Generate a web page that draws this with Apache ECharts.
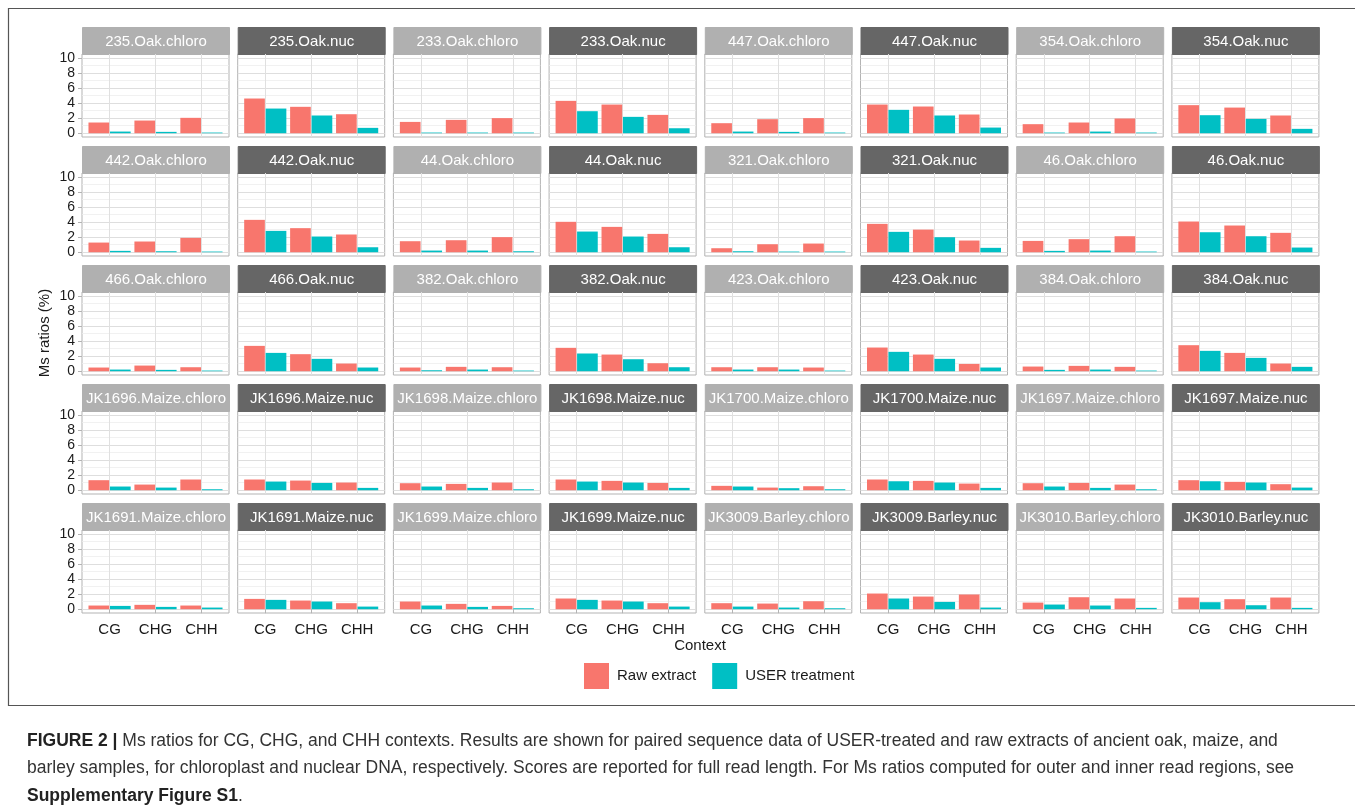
<!DOCTYPE html>
<html><head><meta charset="utf-8">
<script src="https://cdn.jsdelivr.net/npm/echarts@6/dist/echarts.min.js"></script>
<style>html,body{margin:0;padding:0;background:#fff}#c{width:1355px;height:806px}</style>
</head><body><div id="c"></div>
<script>
// ---- data ----
const contexts = ['CG', 'CHG', 'CHH'];
const yTickValues = [0, 2, 4, 6, 8, 10];
const yMinorValues = [1, 3, 5, 7, 9];
const seriesNames = ['Raw extract', 'USER treatment'];
const panelNames = [
  '235.Oak.chloro','235.Oak.nuc','233.Oak.chloro','233.Oak.nuc','447.Oak.chloro','447.Oak.nuc','354.Oak.chloro','354.Oak.nuc',
  '442.Oak.chloro','442.Oak.nuc','44.Oak.chloro','44.Oak.nuc','321.Oak.chloro','321.Oak.nuc','46.Oak.chloro','46.Oak.nuc',
  '466.Oak.chloro','466.Oak.nuc','382.Oak.chloro','382.Oak.nuc','423.Oak.chloro','423.Oak.nuc','384.Oak.chloro','384.Oak.nuc',
  'JK1696.Maize.chloro','JK1696.Maize.nuc','JK1698.Maize.chloro','JK1698.Maize.nuc','JK1700.Maize.chloro','JK1700.Maize.nuc','JK1697.Maize.chloro','JK1697.Maize.nuc',
  'JK1691.Maize.chloro','JK1691.Maize.nuc','JK1699.Maize.chloro','JK1699.Maize.nuc','JK3009.Barley.chloro','JK3009.Barley.nuc','JK3010.Barley.chloro','JK3010.Barley.nuc'
];
// Raw extract: [CG, CHG, CHH] per panel
const rawExtract = [
  [1.42,1.68,2.04],[4.60,3.50,2.52],[1.50,1.77,2.00],[4.29,3.80,2.43],[1.33,1.86,2.00],[3.80,3.54,2.48],[1.20,1.42,1.95],[3.72,3.40,2.35],
  [1.28,1.42,1.90],[4.29,3.19,2.35],[1.46,1.59,2.00],[4.03,3.36,2.43],[0.53,1.06,1.15],[3.76,3.00,1.55],[1.50,1.73,2.12],[4.07,3.54,2.57],
  [0.49,0.75,0.53],[3.36,2.26,1.02],[0.49,0.58,0.53],[3.10,2.21,1.06],[0.53,0.53,0.49],[3.14,2.21,0.97],[0.62,0.71,0.58],[3.45,2.43,1.02],
  [1.33,0.75,1.42],[1.42,1.28,1.02],[0.93,0.84,1.02],[1.42,1.24,0.97],[0.58,0.35,0.53],[1.42,1.24,0.88],[0.93,0.97,0.75],[1.33,1.11,0.80],
  [0.49,0.58,0.49],[1.37,1.15,0.80],[1.02,0.71,0.44],[1.42,1.15,0.80],[0.80,0.75,1.06],[2.08,1.68,1.95],[0.88,1.59,1.42],[1.55,1.33,1.55]
];
// USER treatment: [CG, CHG, CHH] per panel
const userTreatment = [
  [0.22,0.18,0.09],[3.27,2.35,0.71],[0.09,0.09,0.09],[2.92,2.17,0.66],[0.22,0.18,0.09],[3.10,2.35,0.75],[0.09,0.22,0.09],[2.39,1.90,0.58],
  [0.18,0.13,0.09],[2.83,2.08,0.66],[0.22,0.22,0.13],[2.74,2.08,0.66],[0.13,0.09,0.09],[2.70,1.99,0.58],[0.18,0.22,0.09],[2.65,2.12,0.62],
  [0.22,0.18,0.09],[2.43,1.64,0.49],[0.13,0.22,0.09],[2.35,1.59,0.53],[0.22,0.22,0.09],[2.57,1.64,0.49],[0.18,0.22,0.09],[2.70,1.77,0.58],
  [0.49,0.35,0.13],[1.15,0.97,0.31],[0.49,0.31,0.13],[1.15,1.02,0.31],[0.49,0.27,0.13],[1.19,1.02,0.31],[0.49,0.31,0.13],[1.19,1.02,0.35],
  [0.44,0.31,0.22],[1.24,1.02,0.35],[0.49,0.31,0.13],[1.24,1.02,0.35],[0.35,0.22,0.13],[1.42,0.97,0.22],[0.62,0.49,0.18],[0.93,0.53,0.18]
];

// ---- layout / style ----
const FONT = "'Liberation Sans', Arial, sans-serif";
const COLORS = ['#F8766D', '#00BFC4'];
const COLS = 8, ROWS = 5;
const P_LEFT = 82, P_PITCH_X = 155.7, P_W = 147;
const STRIP_TOP = 27, STRIP_H = 27, P_H = 83, P_PITCH_Y = 119;

const grids = [], xAxes = [], yAxes = [], series = [], graphics = [];

panelNames.forEach((name, i) => {
  const r = Math.floor(i / COLS), c = i % COLS;
  const left = P_LEFT + c * P_PITCH_X;
  const stripTop = STRIP_TOP + r * P_PITCH_Y;
  const top = stripTop + STRIP_H;
  const isBottom = r === ROWS - 1, isLeft = c === 0;
  grids.push({left, top, width: P_W, height: P_H, show: true, borderColor: '#B3B3B3', borderWidth: 1, backgroundColor: '#fff', containLabel: false});
  xAxes.push({
    gridIndex: i, type: 'value', min: 0.4, max: 3.6,
    axisLine: {show: false},
    axisTick: {show: isBottom, customValues: [1, 2, 3], length: 4, lineStyle: {color: '#B3B3B3'}},
    axisLabel: {show: isBottom, customValues: [1, 2, 3], formatter: v => contexts[Math.round(v) - 1], color: '#1a1a1a', fontSize: 15, fontFamily: FONT, margin: 9},
    splitLine: {show: true, lineStyle: {color: '#E0E0E0', width: 1}}
  });
  yAxes.push({
    gridIndex: i, type: 'value', min: -0.5, max: 10.5, position: 'left',
    axisLine: {show: false},
    axisTick: {show: isLeft, customValues: yTickValues, length: 4, lineStyle: {color: '#B3B3B3'}},
    axisLabel: {show: isLeft, customValues: yTickValues, color: '#1a1a1a', fontSize: 14, fontFamily: FONT, margin: 7},
    splitLine: {show: true, lineStyle: {color: '#DEDEDE', width: 1}}
  });
  yAxes.push({
    gridIndex: i, type: 'value', min: -0.5, max: 10.5, position: 'left',
    axisLine: {show: false},
    axisTick: {show: false, customValues: yMinorValues},
    axisLabel: {show: false, customValues: yMinorValues},
    splitLine: {show: true, lineStyle: {color: '#EDEDED', width: 0.8}}
  });
  [rawExtract[i], userTreatment[i]].forEach((vals, s) => {
    series.push({
      type: 'bar', name: seriesNames[s], xAxisIndex: i, yAxisIndex: 2 * i,
      data: vals.map((v, k) => [k + 1, v]),
      barWidth: '45%', barGap: '4%',
      itemStyle: {color: COLORS[s]},
      silent: true
    });
  });
  const isChloro = /chloro$/.test(name);
  graphics.push({
    type: 'group', left: left, top: stripTop,
    children: [
      {type: 'rect', shape: {x: 0, y: 0, width: P_W, height: STRIP_H},
       style: {fill: isChloro ? '#B0B0B0' : '#666666', stroke: isChloro ? '#B0B0B0' : '#666666', lineWidth: 1}},
      {type: 'text', x: P_W / 2, y: STRIP_H / 2 + 1,
       style: {text: name, fill: '#fff', fontSize: 15, fontFamily: FONT, align: 'center', verticalAlign: 'middle'}}
    ]
  });
});

// axis titles
graphics.push({type: 'text', x: 700, y: 646, style: {text: 'Context', fill: '#1a1a1a', fontSize: 15, fontFamily: FONT, align: 'center', verticalAlign: 'middle'}});
graphics.push({type: 'text', x: 45, y: 333, rotation: Math.PI / 2, style: {text: 'Ms ratios (%)', fill: '#1a1a1a', fontSize: 15, fontFamily: FONT, align: 'center', verticalAlign: 'middle'}});
// figure frame
graphics.push({type: 'rect', shape: {x: 8.5, y: 8.5, width: 1360, height: 697}, style: {fill: null, stroke: '#555', lineWidth: 1.2}, z: -1});
// caption
const captionLines = [
  '{b|FIGURE 2 |} Ms ratios for CG, CHG, and CHH contexts. Results are shown for paired sequence data of USER-treated and raw extracts of ancient oak, maize, and',
  'barley samples, for chloroplast and nuclear DNA, respectively. Scores are reported for full read length. For Ms ratios computed for outer and inner read regions, see',
  '{b|Supplementary Figure S1}.'
];
captionLines.forEach((t, k) => {
  graphics.push({type: 'text', x: 27, y: 741 + k * 27.5,
    style: {text: t, fill: '#333', fontSize: 17.5, fontFamily: FONT, verticalAlign: 'middle', align: 'left',
      rich: {b: {fontWeight: 'bold', fontSize: 17.5, fontFamily: FONT, fill: '#222'}}}});
});

const chart = echarts.init(document.getElementById('c'), null, {renderer: 'canvas'});
chart.setOption({
  animation: false,
  backgroundColor: '#fff',
  grid: grids, xAxis: xAxes, yAxis: yAxes, series: series,
  legend: {
    data: seriesNames, left: 579, top: 658, icon: 'rect', itemWidth: 25, itemHeight: 26, itemGap: 16,
    textStyle: {fontSize: 15, fontFamily: FONT, color: '#1a1a1a', padding: [0, 0, 0, 3]},
    selectedMode: false
  },
  graphic: graphics
});
</script>
</body></html>
